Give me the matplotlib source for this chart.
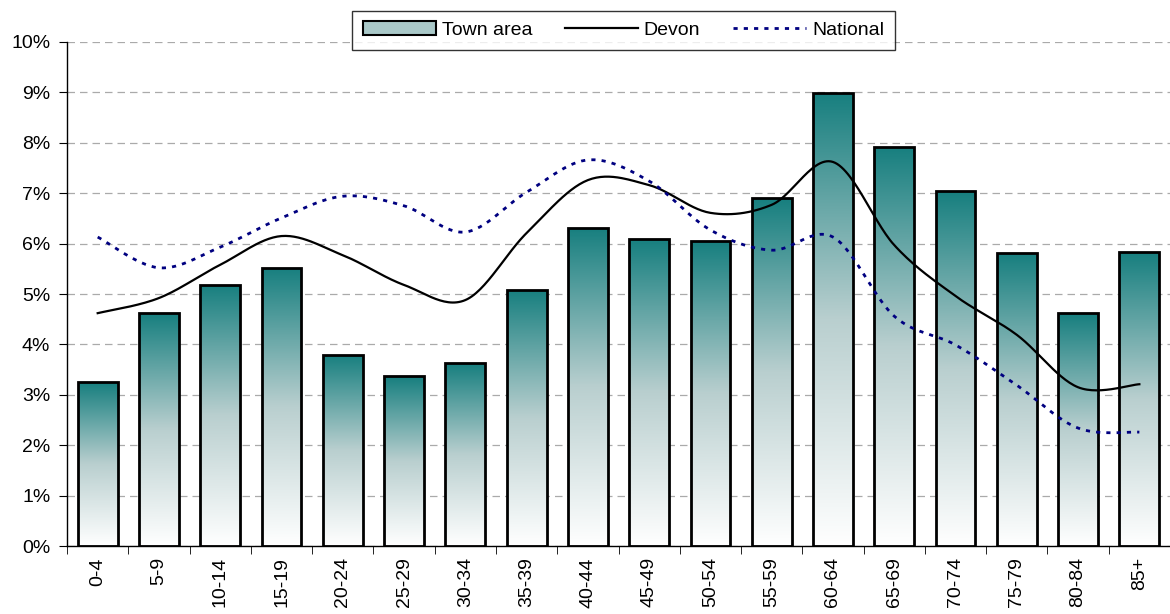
import numpy as np
import matplotlib
matplotlib.use("Agg")
import matplotlib.pyplot as plt
from matplotlib.colors import LinearSegmentedColormap
from matplotlib.patches import Rectangle
from matplotlib.lines import Line2D
from matplotlib.ticker import FixedLocator

plt.rcParams['font.family'] = ['Liberation Sans', 'DejaVu Sans']

### age bands and shares (%)
ages = ['0-4', '5-9', '10-14', '15-19', '20-24', '25-29', '30-34', '35-39', '40-44',
        '45-49', '50-54', '55-59', '60-64', '65-69', '70-74', '75-79', '80-84', '85+']
town = [3.25, 4.62, 5.18, 5.52, 3.79, 3.37, 3.63, 5.08, 6.31,
        6.09, 6.05, 6.90, 8.99, 7.92, 7.04, 5.81, 4.62, 5.83]
devon = [4.62, 4.92, 5.58, 6.15, 5.77, 5.18, 4.88, 6.21, 7.26,
         7.16, 6.61, 6.77, 7.62, 5.97, 4.96, 4.19, 3.15, 3.21]
national = [6.13, 5.52, 5.93, 6.51, 6.94, 6.75, 6.23, 7.02, 7.66,
            7.24, 6.27, 5.87, 6.13, 4.56, 3.99, 3.19, 2.34, 2.26]


def smooth(x, y, n=30):
    # catmull-rom curve through the points, like excel's smoothed line
    x = np.asarray(x, float)
    y = np.asarray(y, float)
    px = np.concatenate([[x[0]], x, [x[-1]]])
    py = np.concatenate([[y[0]], y, [y[-1]]])
    xs, ys = [], []
    t = np.linspace(0, 1, n)
    for i in range(1, len(px) - 2):
        p0, p1, p2, p3 = (np.array([px[j], py[j]]) for j in range(i - 1, i + 3))
        c1 = p1 + (p2 - p0) / 6
        c2 = p2 - (p3 - p1) / 6
        b = ((1 - t) ** 3)[:, None] * p1 + (3 * (1 - t) ** 2 * t)[:, None] * c1 \
            + (3 * (1 - t) * t ** 2)[:, None] * c2 + (t ** 3)[:, None] * p2
        xs.append(b[:, 0])
        ys.append(b[:, 1])
    return np.concatenate(xs), np.concatenate(ys)


cmap = LinearSegmentedColormap.from_list('teal', ['#ffffff', '#b9cfcf', '#177f7f'])
grad = np.linspace(0, 1, 256).reshape(-1, 1)
fs = 14

fig = plt.figure(figsize=(11.7, 6.14), dpi=100)
ax = fig.add_axes([0.0573, 0.1107, 0.9427, 0.8209])

x = np.arange(len(ages))
w = 0.65
for xi, v in zip(x, town):
    im = ax.imshow(grad, cmap=cmap, origin='lower', aspect='auto',
                   extent=(xi - w / 2, xi + w / 2, 0, v), zorder=2)
    r = Rectangle((xi - w / 2, 0), w, v, fill=False, edgecolor='black', lw=2, zorder=3)
    ax.add_patch(r)
    im.set_clip_path(r)

sx, sy = smooth(x, devon)
ax.plot(sx, sy, color='black', lw=1.6, zorder=4)
sx, sy = smooth(x, national)
ax.plot(sx, sy, color='#000080', lw=2, ls=(0, (1.5, 2.2)), zorder=4)

ax.set_xlim(-0.5, len(ages) - 0.5)
ax.set_ylim(0, 10)
ax.set_yticks(range(0, 11))
ax.set_yticklabels([f'{i}%' for i in range(0, 11)], fontsize=fs)
ax.yaxis.grid(True, color='#aaaaaa', ls=(0, (6, 4)), lw=0.9)
ax.set_axisbelow(True)

ax.set_xticks(x)
ax.set_xticklabels(ages, rotation=90, fontsize=fs)
ax.tick_params(axis='x', length=0, pad=8)
ax.xaxis.set_minor_locator(FixedLocator(np.arange(-0.5, len(ages), 1)))
ax.tick_params(axis='x', which='minor', length=6, color='black', direction='out')
ax.tick_params(axis='y', length=6, color='black', direction='out', pad=6)

for s in ['top', 'right']:
    ax.spines[s].set_visible(False)
ax.spines['left'].set_linewidth(1)
ax.spines['bottom'].set_linewidth(1)

handles = [Rectangle((0, 0), 1, 1, facecolor='#a9c8c8', edgecolor='black', lw=1.5),
           Line2D([], [], color='black', lw=1.6),
           Line2D([], [], color='#000080', lw=2, ls=(0, (1.5, 2.2)))]
leg = fig.legend(handles, ['Town area', 'Devon', 'National'], ncol=3, loc='center',
                 bbox_to_anchor=(0.5329, 0.951), fontsize=fs, frameon=True, fancybox=False,
                 edgecolor='black', handlelength=3.75, handletextpad=0.3, columnspacing=1.7,
                 borderpad=0.55)
leg.get_frame().set_linewidth(1)
leg.set_zorder(10)

fig.savefig('out.png', dpi=100)
